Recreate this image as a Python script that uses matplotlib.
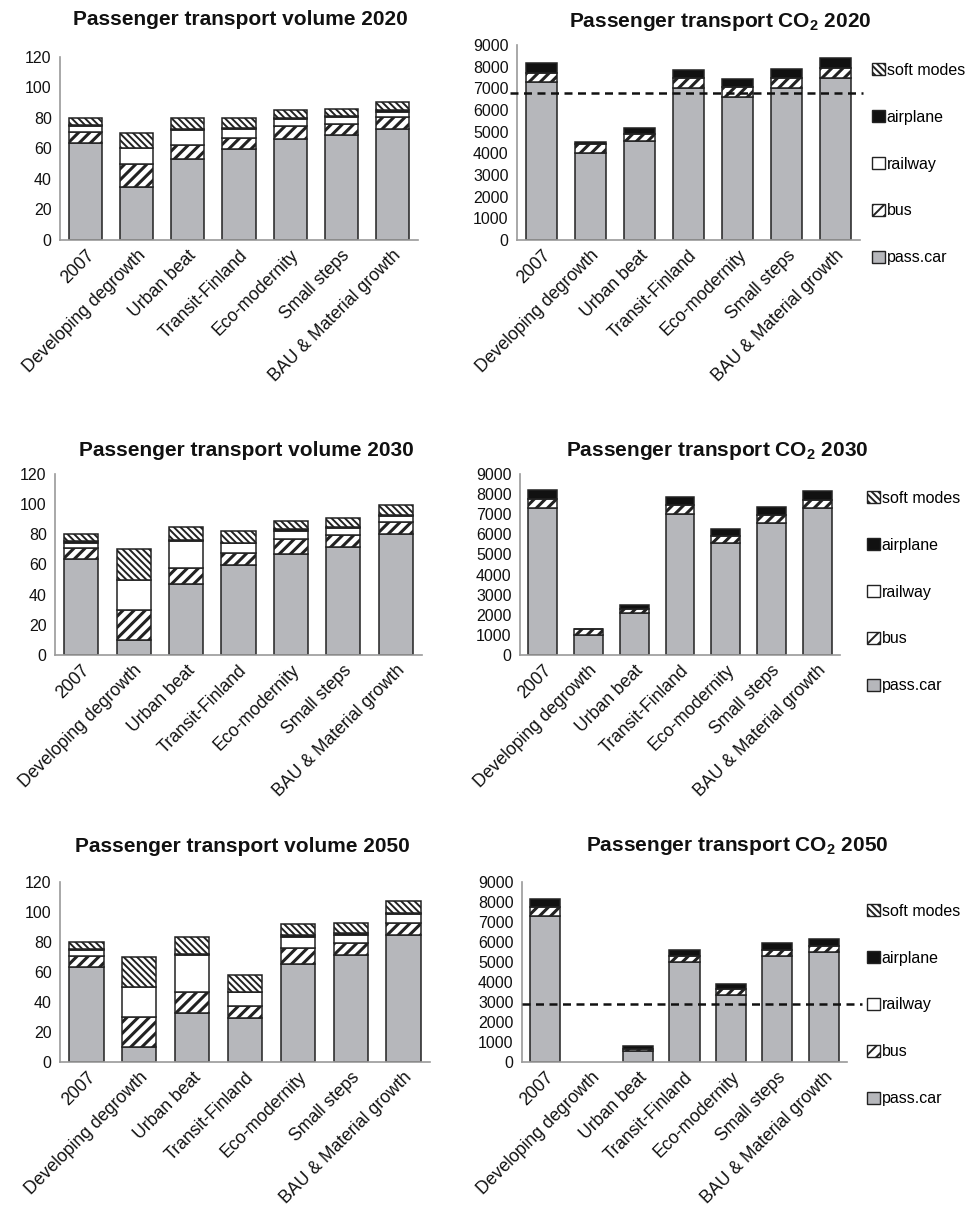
import matplotlib
matplotlib.use("Agg")
import matplotlib.pyplot as plt
from matplotlib.patches import Patch

plt.rcParams["font.family"] = ["Liberation Sans", "DejaVu Sans"]
plt.rcParams["mathtext.fontset"] = "custom"
plt.rcParams["mathtext.rm"] = "Liberation Sans"
plt.rcParams["mathtext.bf"] = "Liberation Sans:bold"
plt.rcParams["hatch.color"] = "#111111"

scenarios = ["2007", "Developing degrowth", "Urban beat", "Transit-Finland",
             "Eco-modernity", "Small steps", "BAU & Material growth"]
modes = ["pass.car", "bus", "railway", "airplane", "soft modes"]

# passenger transport volume (bn pkm)
vol_2020_car = [63.5, 35, 53, 59.5, 66, 68.5, 72.5]
vol_2020_bus = [7.5, 15, 9.5, 7.5, 8.5, 7.5, 8]
vol_2020_rail = [3.5, 10, 9.5, 5.5, 4.5, 4.5, 3.5]
vol_2020_air = [1, 0, 0.5, 0.5, 1, 1, 1]
vol_2020_soft = [4.5, 10, 7.5, 7, 5, 4.5, 5.5]

vol_2030_car = [63.5, 10, 47, 60, 67, 71.5, 80]
vol_2030_bus = [7.5, 20, 11, 7.5, 10, 8, 8]
vol_2030_rail = [3.5, 20, 17.5, 6.5, 5.5, 4.5, 4]
vol_2030_air = [1, 0, 0.5, 0.5, 1, 1, 1]
vol_2030_soft = [4.5, 20, 9, 8, 5.5, 5.5, 6.5]

vol_2050_car = [63.5, 10, 33, 29.5, 65.5, 71.5, 85]
vol_2050_bus = [7.5, 20, 13.5, 8, 10.5, 8, 8]
vol_2050_rail = [3.5, 20, 25, 9, 7.5, 5.5, 5.5]
vol_2050_air = [1, 0, 0.5, 0.5, 1, 1, 1]
vol_2050_soft = [4.5, 20, 11.5, 11, 7.5, 6.5, 8]

# passenger transport CO2 (kt)
co2_2020_car = [7280, 4000, 4570, 7000, 6620, 7030, 7490]
co2_2020_bus = [450, 420, 300, 460, 430, 430, 430]
co2_2020_rail = [0, 0, 0, 0, 0, 0, 0]
co2_2020_air = [420, 90, 280, 390, 380, 420, 460]
co2_2020_soft = [0, 0, 0, 0, 0, 0, 0]

co2_2030_car = [7290, 970, 2080, 7010, 5560, 6560, 7300]
co2_2030_bus = [470, 310, 210, 460, 370, 420, 420]
co2_2030_rail = [0, 0, 0, 0, 0, 0, 0]
co2_2030_air = [420, 30, 180, 380, 350, 380, 450]
co2_2030_soft = [0, 0, 0, 0, 0, 0, 0]

co2_2050_car = [7280, 0, 540, 4980, 3330, 5280, 5500]
co2_2050_bus = [470, 0, 100, 330, 320, 330, 320]
co2_2050_rail = [0, 0, 0, 0, 0, 0, 0]
co2_2050_air = [420, 0, 140, 300, 250, 330, 350]
co2_2050_soft = [0, 0, 0, 0, 0, 0, 0]

target_2020 = 6770
target_2050 = 2900

CAR_GREY = "#b6b7bb"
EDGE = "#222222"
# facecolor, hatch, hatch linewidth for each mode
styles = [
    (CAR_GREY, "", 1.0),
    ("white", "///", 2.2),
    ("white", "", 1.0),
    ("#111111", "", 1.0),
    ("white", "\\\\\\\\\\", 1.4),
]

W, H = 965, 1210
fig = plt.figure(figsize=(W / 100, H / 100), dpi=100)


def rect(l, t, r, b):
    return [l / W, 1 - b / H, (r - l) / W, (b - t) / H]


def stacked(ax, series, ymax, ystep, width=0.65):
    x = list(range(len(scenarios)))
    bottom = [0] * len(scenarios)
    for vals, (fc, hatch, hlw) in zip(series, styles):
        plt.rcParams["hatch.linewidth"] = hlw
        lw = [0 if v == 0 else 1.1 for v in vals]
        bars = ax.bar(x, vals, width, bottom=bottom, color=fc,
                      edgecolor=EDGE, linewidth=lw, hatch=hatch or None,
                      zorder=2)
        for b in bars:
            if hasattr(b, "set_hatch_linewidth"):
                b.set_hatch_linewidth(hlw)
        bottom = [a + v for a, v in zip(bottom, vals)]
    ax.set_xlim(-0.5, len(scenarios) - 0.5)
    ax.set_ylim(0, ymax)
    ax.set_yticks(range(0, ymax + 1, ystep))
    ax.set_xticks(x)
    ax.set_xticklabels(scenarios, rotation=45, ha="right",
                       rotation_mode="anchor", fontsize=12.7)
    ax.tick_params(axis="y", length=0, labelsize=11.5, colors="#111111", pad=6)
    ax.tick_params(axis="x", length=0, colors="#111111", pad=5)
    for s in ["top", "right"]:
        ax.spines[s].set_visible(False)
    for s in ["left", "bottom"]:
        ax.spines[s].set_color("#9a9a9a")
        ax.spines[s].set_linewidth(1.2)
    ax.patch.set_alpha(0)


def legend(ax, x_px, y_px):
    handles = []
    for name, (fc, hatch, hlw) in zip(modes, styles):
        plt.rcParams["hatch.linewidth"] = min(hlw, 1.5)
        handles.append(Patch(facecolor=fc, edgecolor=EDGE, linewidth=1.0,
                             hatch=hatch or None, label=name))
    handles = handles[::-1]
    ax.legend(handles=handles, loc="center left",
              bbox_to_anchor=(x_px / W, 1 - y_px / H),
              bbox_transform=fig.transFigure, frameon=False,
              fontsize=11.5, handlelength=0.8, handleheight=0.8,
              handletextpad=0.12, labelspacing=2.0, borderpad=0,
              borderaxespad=0)


def title(text, x_px, y_px):
    fig.text(x_px / W, 1 - y_px / H, text, ha="center", va="baseline",
             fontsize=15, fontweight="bold", color="#111111")


def target_line(ax, value, x0, x1):
    ax.plot([x0, x1], [value, value], transform=ax.get_yaxis_transform(),
            color="#111111", lw=1.8, ls=(0, (3.2, 2.2)), clip_on=False,
            zorder=3)


# 2020
ax = fig.add_axes(rect(60, 56.7, 418, 240))
stacked(ax, [vol_2020_car, vol_2020_bus, vol_2020_rail, vol_2020_air, vol_2020_soft], 120, 20)
title("Passenger transport volume 2020", 240, 25)

ax = fig.add_axes(rect(517, 45, 860, 240))
stacked(ax, [co2_2020_car, co2_2020_bus, co2_2020_rail, co2_2020_air, co2_2020_soft], 9000, 1000)
target_line(ax, target_2020, -0.02, 1.01)
legend(ax, 872, 164)
title(r"Passenger transport CO$_\mathbf{2}$ 2020", 720, 27)

# 2030
ax = fig.add_axes(rect(55, 474, 422, 655))
stacked(ax, [vol_2030_car, vol_2030_bus, vol_2030_rail, vol_2030_air, vol_2030_soft], 120, 20)
title("Passenger transport volume 2030", 246, 456)

ax = fig.add_axes(rect(520, 474, 840, 655))
stacked(ax, [co2_2030_car, co2_2030_bus, co2_2030_rail, co2_2030_air, co2_2030_soft], 9000, 1000,
        width=0.63)
legend(ax, 867, 592)
title(r"Passenger transport CO$_\mathbf{2}$ 2030", 717, 456)

# 2050
ax = fig.add_axes(rect(60, 882, 430, 1062))
stacked(ax, [vol_2050_car, vol_2050_bus, vol_2050_rail, vol_2050_air, vol_2050_soft], 120, 20)
title("Passenger transport volume 2050", 242, 852)

ax = fig.add_axes(rect(522, 882, 847, 1062))
stacked(ax, [co2_2050_car, co2_2050_bus, co2_2050_rail, co2_2050_air, co2_2050_soft], 9000, 1000)
target_line(ax, target_2050, 0.0, 1.045)
legend(ax, 867, 1005)
title(r"Passenger transport CO$_\mathbf{2}$ 2050", 737, 851)

fig.savefig("out.png", dpi=100)
